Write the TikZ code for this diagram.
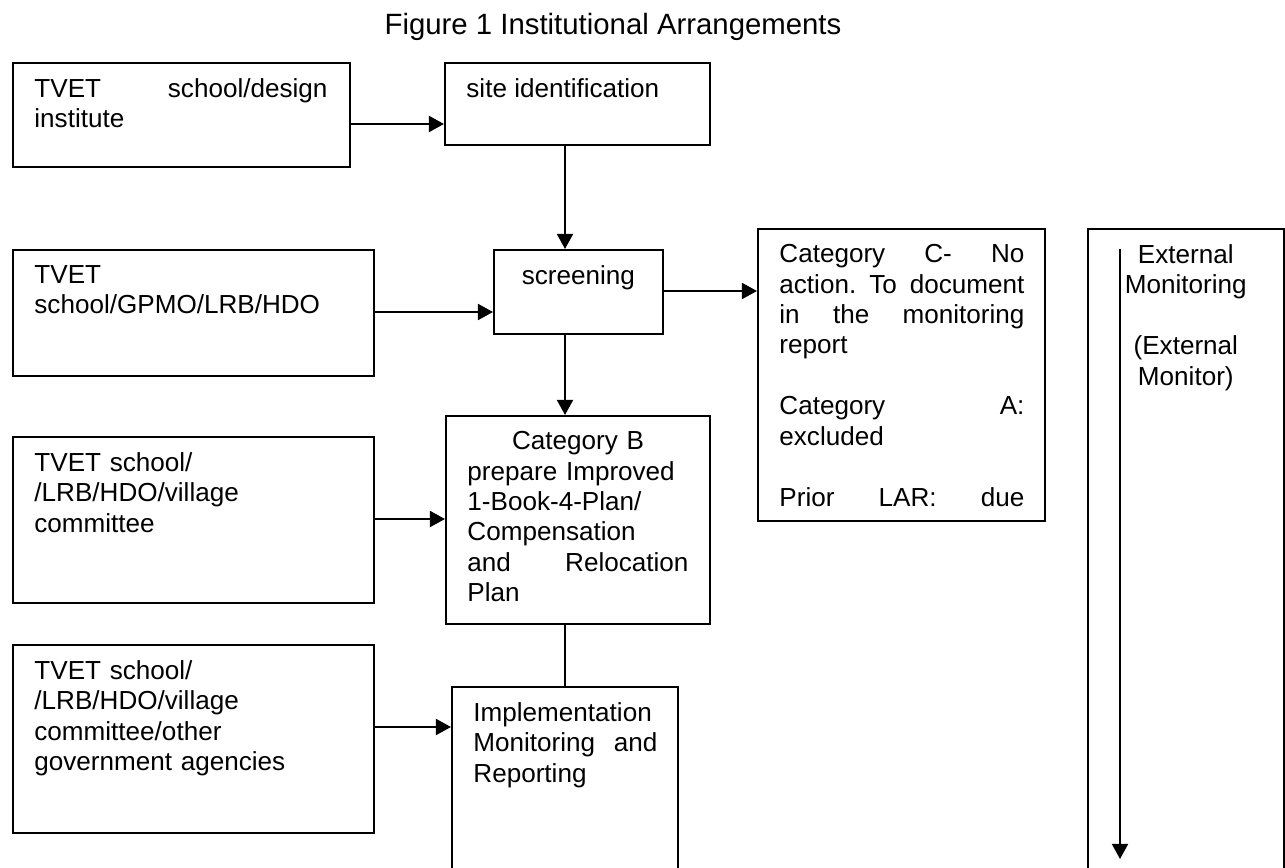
\documentclass[tikz,border=0pt]{standalone}
\usepackage{fontspec}
\setmainfont{Liberation Sans}
\usetikzlibrary{arrows.meta, positioning}
\newcommand{\pxu}{0.46pt}

\begin{document}
\begin{tikzpicture}[
	x=0.46pt, y=-0.46pt,
	font=\fontsize{12pt}{14pt}\selectfont,
	box/.style = {draw, line width=.75pt, anchor=north west, inner sep=0pt},
	txt/.style = {anchor=north west, inner sep=0pt, align=left},
	tin/.style = {xshift=22*\pxu, yshift=-16*\pxu},
	tdn/.style = {yshift=-16*\pxu},
	arr/.style = {line width=1pt, -{Triangle[length=7pt, width=7.4pt]}}
	]
	\useasboundingbox (0,0) rectangle (1285,868);
	\clip (0,0) rectangle (1285,868);
%
	\node[anchor=base, font=\fontsize{13.5pt}{16pt}\selectfont] (title) at (613,35) {Figure 1 Institutional Arrangements};
%
	\node[box, minimum width=337*\pxu, minimum height=104*\pxu] (inst) at (12,62) {};
	\node[box, minimum width=265*\pxu, minimum height=82*\pxu] (site) at (444,62) {};
	\node[box, minimum width=361*\pxu, minimum height=126*\pxu] (gpmo) at (12,249) {};
	\node[box, minimum width=169*\pxu, minimum height=84*\pxu] (screen) at (493,249) {};
	\node[box, minimum width=287*\pxu, minimum height=292*\pxu] (catc) at (757,228) {};
	\node[box, minimum width=196*\pxu, minimum height=660*\pxu] (extmon) at (1087,228) {};
	\node[box, minimum width=361*\pxu, minimum height=166*\pxu] (lrb) at (12,436) {};
	\node[box, minimum width=264*\pxu, minimum height=208*\pxu] (catb) at (445,415) {};
	\node[box, minimum width=361*\pxu, minimum height=188*\pxu] (agency) at (12,644) {};
	\node[box, minimum width=226*\pxu, minimum height=200*\pxu] (impl) at (451,686) {};
%
	\node[txt, text width=134.8pt] (inst-t) at ([tin] inst.north west) {TVET\hfill school/design\\institute};
	\node[txt] (site-t) at ([tin] site.north west) {site identification};
	\node[txt, text width=146pt] (gpmo-t) at ([tin] gpmo.north west) {TVET\\school/GPMO/LRB/HDO};
	\node[txt, anchor=north] (screen-t) at ([tdn] screen.north) {screening};
	\node[txt, text width=112.7pt] (catc-t) at ([tin] catc.north west)
		{Category\hfill C-\hfill No\\action.\hfill To\hfill document\\in\hfill the\hfill monitoring\\report\\[14pt]Category\hfill A:\\excluded\\[14pt]Prior\hfill LAR:\hfill due};
	\node[txt, anchor=north, align=center] (extmon-t) at ([tdn] extmon.north)
		{External\\Monitoring\\[14pt](External\\Monitor)};
	\node[txt, text width=146pt] (lrb-t) at ([tin] lrb.north west) {TVET school/\\/LRB/HDO/village\\committee};
	\node[txt, text width=101.7pt] (catb-t) at ([tin] catb.north west)
		{\hspace*{\fill}Category B\hspace*{\fill}\null\\prepare Improved\\1-Book-4-Plan/\\Compensation\\and\hfill Relocation\\Plan};
	\node[txt, text width=146pt] (agency-t) at ([tin] agency.north west)
		{TVET school/\\/LRB/HDO/village\\committee/other\\government agencies};
	\node[txt, text width=84.6pt] (impl-t) at ([tin] impl.north west) {Implementation\\Monitoring\hfill and\\Reporting};
%
	\coordinate (r1) at (0,124);
	\coordinate (r2) at (0,312);
	\coordinate (r3) at (0,291);
	\coordinate (r4) at (0,519);
	\coordinate (r5) at (0,727);
	\coordinate (c1) at (565,0);
	\coordinate (mon-a) at (1120,249);
	\coordinate (mon-b) at (1120,859);
%
	\draw[arr] (r1 -| inst.east) -- (r1 -| site.west);
	\draw[arr] (c1 |- site.south) -- (c1 |- screen.north);
	\draw[arr] (r2 -| gpmo.east) -- (r2 -| screen.west);
	\draw[arr] (r3 -| screen.east) -- (r3 -| catc.west);
	\draw[arr] (c1 |- screen.south) -- (c1 |- catb.north);
	\draw[arr] (r4 -| lrb.east) -- (r4 -| catb.west);
	\draw[line width=1pt] (c1 |- catb.south) -- (c1 |- impl.north);
	\draw[arr] (r5 -| agency.east) -- (r5 -| impl.west);
	\draw[arr] (mon-a) -- (mon-b);
\end{tikzpicture}
\end{document}
